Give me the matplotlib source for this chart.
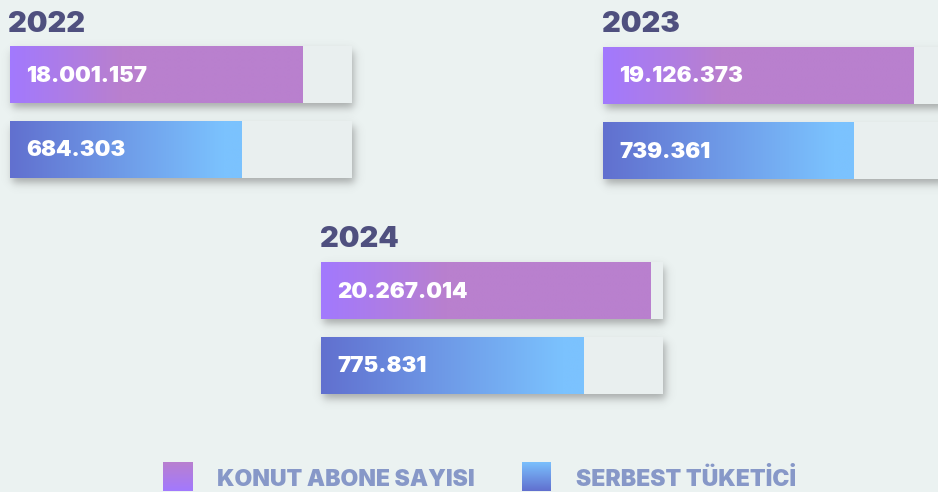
import numpy as np
import matplotlib
matplotlib.use('Agg')
import matplotlib.pyplot as plt
from matplotlib.colors import LinearSegmentedColormap

# ---- data ----
years = ['2022', '2023', '2024']
series = ['KONUT ABONE SAYISI', 'SERBEST TÜKETİCİ']
konut = [18001157, 19126373, 20267014]
serbest = [684303, 739361, 775831]
scale_max = [21_050_000, 1_010_000]

# ---- style ----
W, H = 938, 492
FONT = ['Inter', 'Lato', 'DejaVu Sans']
BG = '#ebf2f1'
TITLE_C = '#4f507f'
TRACK_C = '#e9efef'
LEG_C = '#8798c8'
grad = [
    [(0.0, '#a279fe'), (0.38, '#b980ce'), (1.0, '#b980ce')],
    [(0.0, '#6170cf'), (0.92, '#7bc2fe'), (1.0, '#7bc2fe')],
]
cmaps = [LinearSegmentedColormap.from_list(f'g{i}', g) for i, g in enumerate(grad)]

group_xy = [(10, 46), (603, 47), (321, 262)]   # px: top-left of first track
title_xy = [(8, 32), (602, 32), (320, 247)]     # px: left, baseline
TW, BH, STEP = 342, 57, 75

fig = plt.figure(figsize=(W / 100, H / 100), dpi=100)
fig.patch.set_facecolor(BG)


def fmt(v):
    return f'{v:,}'.replace(',', '.')


def shadow(ax, smax, wpx, hpx):
    pad = 26
    xs = np.arange(-pad, wpx + pad + 1, dtype=float)
    ys = np.arange(-pad, hpx + pad + 1, dtype=float)
    s, dx, dy = 5.0, 2.0, 5.0
    fx = 0.5 * (np.tanh((xs - dx) / s) - np.tanh((xs - dx - wpx) / s))
    fy = 0.5 * (np.tanh((ys - dy) / s) - np.tanh((ys - dy - hpx) / s))
    a = np.outer(fy, fx) * 0.45
    rgba = np.zeros(a.shape + (4,))
    rgba[..., :3] = 0.33
    rgba[..., 3] = a
    ext = (-pad * smax / wpx, (wpx + pad) * smax / wpx,
           0.5 - (hpx + pad) / hpx, 0.5 + pad / hpx)
    ax.imshow(rgba, extent=ext, origin='upper', aspect='auto',
              clip_on=False, zorder=0, interpolation='bilinear')


for gi, year in enumerate(years):
    gx, gy = group_xy[gi]
    tx, ty = title_xy[gi]
    fig.text(tx / W, 1 - ty / H, year, va='baseline', ha='left',
             fontsize=21, fontweight='black', color=TITLE_C, family=FONT)
    for si, vals in enumerate([konut, serbest]):
        v = vals[gi]
        smax = scale_max[si]
        top = gy + si * STEP
        ax = fig.add_axes([gx / W, 1 - (top + BH) / H, TW / W, BH / H])
        ax.set_axis_off()
        ax.patch.set_alpha(0)
        shadow(ax, smax, TW, BH)
        ax.barh(0, smax, height=1, color=TRACK_C, zorder=1)
        ax.barh(0, v, height=1, color=grad[si][-1][1], zorder=2)
        ax.imshow(np.linspace(0, 1, 256)[None, :], cmap=cmaps[si],
                  extent=(0, v, -0.5, 0.5), aspect='auto', zorder=3,
                  interpolation='bilinear')
        ax.set_xlim(0, smax)
        ax.set_ylim(-0.5, 0.5)
        ax.annotate(fmt(v), xy=(0, 0), xytext=(16, -1), textcoords='offset pixels',
                    va='center', ha='left', fontsize=16, fontweight='black',
                    color='white', family=FONT, zorder=4)

# ---- legend ----
leg_sw = [(163, 462), (522, 462)]
leg_tx = [(217, 486), (576, 486)]
leg_grad = [['#b980ce', '#a279fe'], ['#7bc2fe', '#6170cf']]
for i, name in enumerate(series):
    sx, sy = leg_sw[i]
    lax = fig.add_axes([sx / W, 1 - (sy + 29) / H, 29 / W, 29 / H])
    lax.set_axis_off()
    cm = LinearSegmentedColormap.from_list(f'l{i}', leg_grad[i])
    lax.imshow(np.linspace(0, 1, 64)[:, None], cmap=cm, aspect='auto',
               extent=(0, 1, 0, 1), origin='upper')
    tx, ty = leg_tx[i]
    fig.text(tx / W, 1 - ty / H, name, va='baseline', ha='left',
             fontsize=16.5, fontweight='black', color=LEG_C, family=FONT)

fig.savefig('out.png', dpi=100, facecolor=BG)
